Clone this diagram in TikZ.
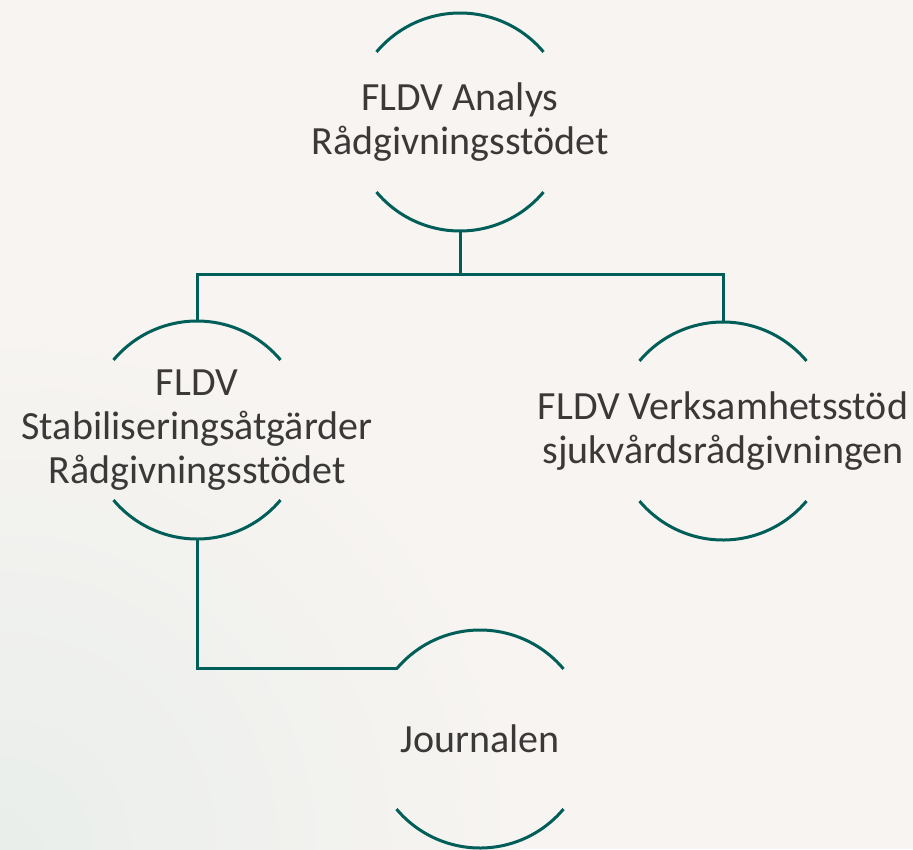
\documentclass[tikz,border=0pt]{standalone}
\usepackage{fontspec}
\setmainfont{Carlito}
\usetikzlibrary{calc}
\definecolor{teal}{RGB}{0,94,88}
\definecolor{txtgray}{RGB}{59,56,56}
\definecolor{bgwarm}{RGB}{247,244,241}
\definecolor{bggreen}{RGB}{233,238,235}

\tikzset{
    unit/.style={inner sep=0pt, align=center, text=txtgray, font=\fontsize{40}{44}\selectfont},
    link/.style={teal, line width=3pt}
}

\begin{document}
\begin{tikzpicture}[x=1pt,y=-1pt]
        % background
        \useasboundingbox (0,0) rectangle (913,849);
        \fill[bgwarm] (0,0) rectangle (913,849);
        \begin{scope}
            \clip (0,0) rectangle (913,849);
            \shade[inner color=bggreen, outer color=bgwarm] (0,849) circle[radius=520pt];
        \end{scope}

        \node[unit] (analys) at (460,122) {FLDV Analys\\Rådgivningsstödet};
        \node[unit] (stab) at (197,430) {FLDV\\Stabiliseringsåtgärder\\Rådgivningsstödet};
        \node[unit] (verks) at (723,431) {FLDV Verksamhetsstöd\\sjukvårdsrådgivningen};
        \node[unit] (journal) at (480,739) {Journalen};

        % arcs round each unit
        \foreach \n in {analys,stab,verks,journal} {
                \draw[link] ($(\n.center)+(40:109pt)$) arc[start angle=40, end angle=140, radius=109pt] coordinate (\n-left);
                \draw[link] ($(\n.center)+(220:109pt)$) arc[start angle=220, end angle=320, radius=109pt];
                \coordinate (\n-top) at ($(\n.center)+(90:109pt)$);
                \coordinate (\n-bot) at ($(\n.center)+(270:109pt)$);
            }

        \coordinate (fork) at (460,274);
        \draw[link] (analys-bot) -- (fork);
        \draw[link] (stab-top) |- (fork) -| (verks-top);
        \draw[link] (stab-bot) |- (journal-left);

    \end{tikzpicture}
\end{document}
